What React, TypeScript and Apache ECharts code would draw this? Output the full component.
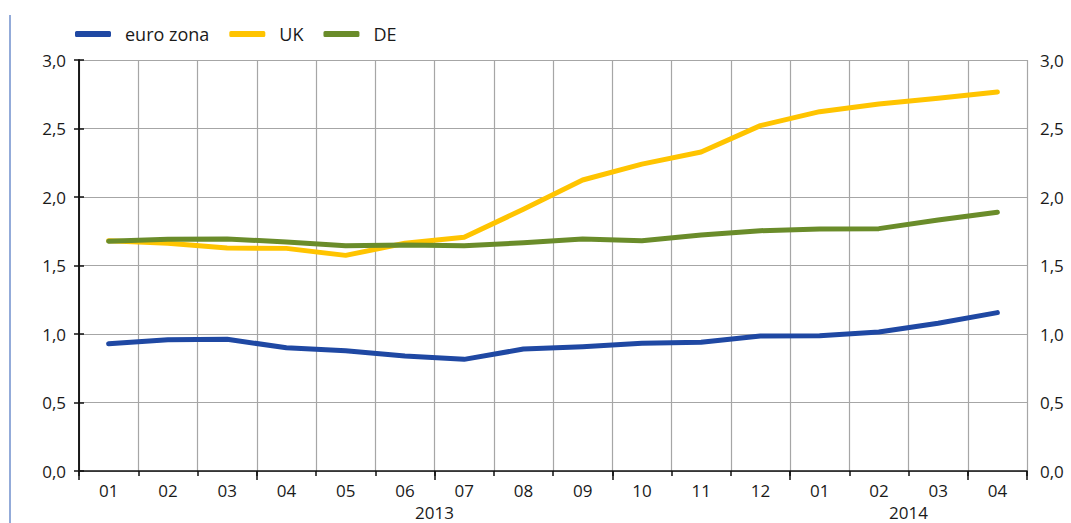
import React, { useEffect, useRef } from "react";
import * as echarts from "echarts";

const months = ["01", "02", "03", "04", "05", "06", "07", "08", "09", "10", "11", "12", "01", "02", "03", "04"];
const yearLabels: { [k: number]: string } = { 6: "2013", 14: "2014" };
const euroZona = [0.929, 0.958, 0.961, 0.9, 0.878, 0.839, 0.815, 0.89, 0.907, 0.932, 0.939, 0.985, 0.988, 1.015, 1.078, 1.156];
const uk = [1.681, 1.662, 1.628, 1.625, 1.574, 1.662, 1.706, 1.91, 2.124, 2.24, 2.328, 2.521, 2.623, 2.679, 2.72, 2.766];
const de = [1.677, 1.691, 1.693, 1.672, 1.645, 1.65, 1.645, 1.666, 1.693, 1.681, 1.723, 1.754, 1.766, 1.769, 1.832, 1.888];

const FONT = "Open Sans";
const TEXT = "#1a1a1a";
const AXIS_FS = 17;

export default function App() {
  const ref = useRef<HTMLDivElement>(null);
  useEffect(() => {
    if (!ref.current) return;
    const chart = echarts.init(ref.current, null, { renderer: "svg" });
    const fmt = (v: number) => v.toFixed(1).replace(".", ",");
    const yAxisCommon = {
      type: "value",
      min: 0,
      max: 3,
      interval: 0.5,
      axisLine: { show: true, lineStyle: { color: "#111", width: 1.5 } },
      axisTick: { show: true, length: 5, lineStyle: { color: "#111", width: 1.5 } },
      axisLabel: { formatter: fmt, color: TEXT, fontFamily: FONT, fontSize: AXIS_FS, margin: 13 },
    };
    chart.setOption({
      animation: false,
      textStyle: { fontFamily: FONT },
      graphic: [
        {
          type: "line",
          shape: { x1: 10, y1: 15, x2: 10, y2: 523 },
          style: { stroke: "#6f8fcc", lineWidth: 1.5 },
        },
      ],
      legend: {
        left: 70,
        top: 20,
        icon: "roundRect",
        itemWidth: 36,
        itemHeight: 6,
        itemGap: 20,
        textStyle: { color: TEXT, fontFamily: FONT, fontSize: 18, padding: [0, 0, 0, 9] },
        data: ["euro zona", "UK", "DE"],
      },
      grid: { left: 79, right: 44, top: 60, bottom: 52, containLabel: false },
      xAxis: [
        {
          type: "category",
          data: months,
          boundaryGap: true,
          position: "bottom",
          axisLine: { show: true, onZero: false, lineStyle: { color: "#111", width: 1.5 } },
          axisTick: { show: true, length: 5, interval: 0, lineStyle: { color: "#111", width: 1.5 } },
          axisLabel: { color: TEXT, fontFamily: FONT, fontSize: AXIS_FS, margin: 11, interval: 0 },
          splitLine: { show: true, interval: 0, lineStyle: { color: "#a6a6a6", width: 1.2 } },
        },
        {
          type: "value",
          min: 0,
          max: 16,
          interval: 3,
          position: "bottom",
          axisLine: { show: false },
          axisTick: { show: true, length: 9, lineStyle: { color: "#111", width: 1.5 } },
          axisLabel: { show: false },
          splitLine: { show: false },
        },
        {
          type: "value",
          min: 0,
          max: 16,
          interval: 1,
          position: "bottom",
          axisLine: { show: false },
          axisTick: { show: false },
          axisLabel: {
            color: TEXT,
            fontFamily: FONT,
            fontSize: AXIS_FS,
            margin: 33,
            formatter: (v: number) => yearLabels[Math.round(v)] || "",
          },
          splitLine: { show: false },
        },
      ],
      yAxis: [
        {
          ...yAxisCommon,
          position: "left",
          splitLine: { show: true, lineStyle: { color: "#a6a6a6", width: 1.2 } },
        },
        {
          ...yAxisCommon,
          position: "right",
          splitLine: { show: false },
        },
      ],
      series: [
        {
          name: "euro zona",
          type: "line",
          data: euroZona,
          symbol: "none",
          itemStyle: { color: "#1f48a3" },
          lineStyle: { color: "#1f48a3", width: 5, cap: "round", join: "round" },
        },
        {
          name: "UK",
          type: "line",
          data: uk,
          symbol: "none",
          itemStyle: { color: "#ffc400" },
          lineStyle: { color: "#ffc400", width: 5, cap: "round", join: "round" },
        },
        {
          name: "DE",
          type: "line",
          data: de,
          symbol: "none",
          itemStyle: { color: "#6a8c2a" },
          lineStyle: { color: "#6a8c2a", width: 5, cap: "round", join: "round" },
        },
      ],
    });
    return () => chart.dispose();
  }, []);
  return (
    <div
      ref={ref}
      style={{ position: "fixed", left: 0, top: 0, width: 1071, height: 523, background: "#fff" }}
    />
  );
}
